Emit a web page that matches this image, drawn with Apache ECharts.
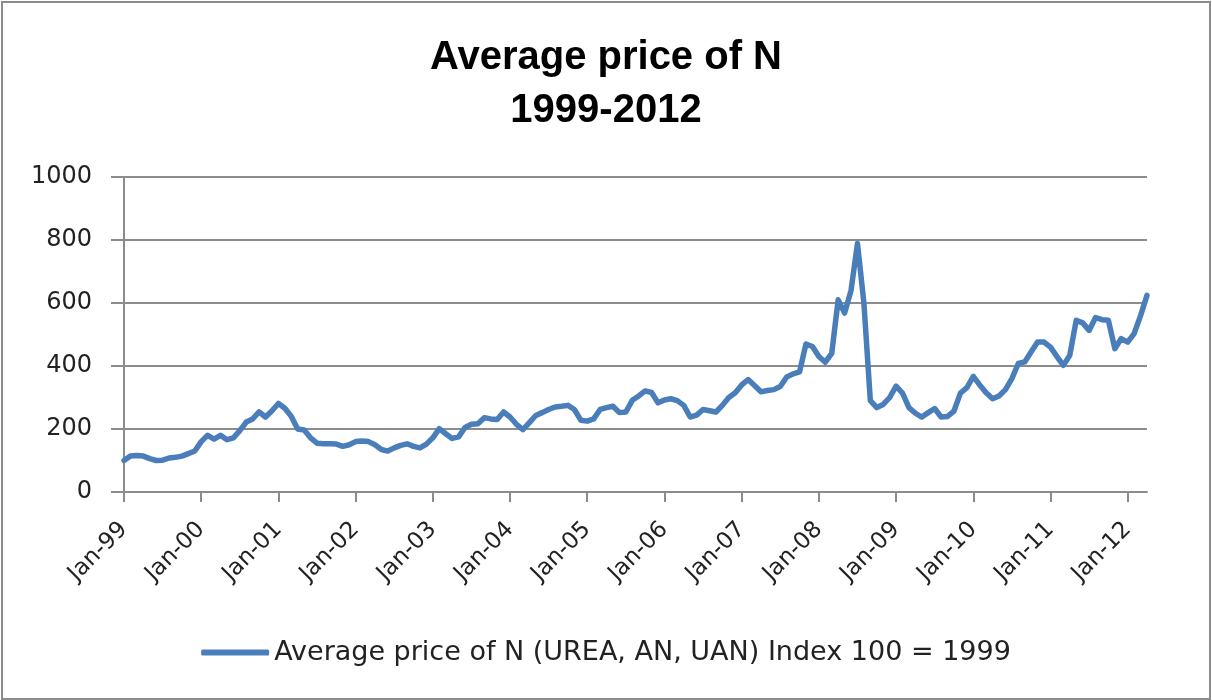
<!DOCTYPE html>
<html>
<head>
<meta charset="utf-8">
<script src="https://cdn.jsdelivr.net/npm/echarts@6/dist/echarts.min.js"></script>
<style>
  html, body { margin: 0; padding: 0; background: #fff; }
  #chart { width: 1212px; height: 700px; }
</style>
</head>
<body>
<div id="chart"></div>
<script>
// months Jan-99 .. Apr-12
const years = ['99', '00', '01', '02', '03', '04', '05', '06', '07', '08', '09', '10', '11', '12'];
const monthNames = ['Jan', 'Feb', 'Mar', 'Apr', 'May', 'Jun', 'Jul', 'Aug', 'Sep', 'Oct', 'Nov', 'Dec'];
const lastYearMonths = 4;

const priceIndex = [
  100, 114, 116, 114, 106, 100, 101, 108, 110, 114, 122, 130,   // 1999
  160, 180, 168, 180, 166, 172, 195, 222, 232, 254, 238, 258,   // 2000
  281, 266, 240, 200, 197, 172, 155, 153, 153, 152, 145, 150,   // 2001
  160, 162, 160, 150, 135, 130, 140, 148, 153, 145, 140, 152,   // 2002
  172, 201, 185, 170, 175, 205, 215, 217, 236, 232, 230, 254,   // 2003
  238, 215, 198, 220, 243, 252, 262, 270, 272, 275, 262, 228,   // 2004
  225, 232, 262, 268, 272, 252, 254, 291, 305, 321, 316, 283,   // 2005
  292, 296, 290, 275, 238, 244, 262, 258, 254, 275, 300, 315,   // 2006
  340, 357, 338, 318, 322, 325, 335, 365, 375, 381, 470, 462,   // 2007
  430, 412, 440, 610, 568, 640, 789, 600, 290, 268, 278, 300,   // 2008
  336, 314, 268, 250, 238, 252, 265, 238, 240, 257, 314, 331,   // 2009
  367, 340, 315, 296, 305, 325, 360, 408, 413, 445, 476, 476,   // 2010
  460, 430, 402, 434, 545, 537, 513, 554, 547, 545, 455, 487,   // 2011
  476, 503, 560, 624                                            // 2012
];

const yTicks = { min: 0, max: 1000, interval: 200 };

const categories = [];
years.forEach(function (y, i) {
  const n = i === years.length - 1 ? lastYearMonths : 12;
  for (let m = 0; m < n; m++) categories.push(monthNames[m] + '-' + y);
});

const gray = '#8c8c8c';
const labelFont = 'DejaVu Sans';
const isJan = function (idx) { return idx % 12 === 0; };

const chart = echarts.init(document.getElementById('chart'));
chart.setOption({
  animation: false,
  title: {
    text: 'Average price of N\n1999-2012',
    left: 'center',
    top: 26,
    textStyle: {
      fontFamily: 'Liberation Sans',
      fontWeight: 'bold',
      fontSize: 40,
      lineHeight: 53,
      color: '#000'
    }
  },
  graphic: [{
    type: 'rect',
    shape: { x: 2, y: 2, width: 1208, height: 697 },
    style: { fill: 'none', stroke: gray, lineWidth: 2 },
    silent: true
  }],
  legend: {
    top: 634,
    left: 'center',
    icon: 'roundRect',
    itemWidth: 68,
    itemHeight: 6,
    textStyle: { fontFamily: labelFont, fontSize: 27, color: '#222' }
  },
  grid: { left: 124, right: 65, top: 177, bottom: 208, containLabel: false },
  xAxis: {
    type: 'category',
    data: categories,
    boundaryGap: false,
    axisLine: { lineStyle: { color: gray, width: 2 } },
    axisTick: { interval: function (idx) { return isJan(idx); }, length: 10, lineStyle: { color: gray, width: 2 } },
    axisLabel: {
      interval: function (idx) { return isJan(idx); },
      rotate: 45,
      margin: 34,
      fontFamily: labelFont,
      fontSize: 23,
      color: '#222'
    },
    splitLine: { show: false }
  },
  yAxis: {
    type: 'value',
    min: yTicks.min,
    max: yTicks.max,
    interval: yTicks.interval,
    axisLine: { show: true, lineStyle: { color: gray, width: 2 } },
    axisTick: { show: true, length: 13, lineStyle: { color: gray, width: 2 } },
    axisLabel: {
      margin: 32,
      fontFamily: labelFont,
      fontSize: 24,
      color: '#222',
      formatter: function (v) { return String(v); }
    },
    splitLine: { lineStyle: { color: gray, width: 2 } }
  },
  series: [{
    name: 'Average price of N (UREA, AN, UAN) Index 100 = 1999',
    type: 'line',
    data: priceIndex,
    showSymbol: false,
    symbol: 'none',
    lineStyle: { color: '#4a7ebb', width: 5.5, join: 'round', cap: 'round' },
    itemStyle: { color: '#4a7ebb' }
  }]
});
</script>
</body>
</html>
